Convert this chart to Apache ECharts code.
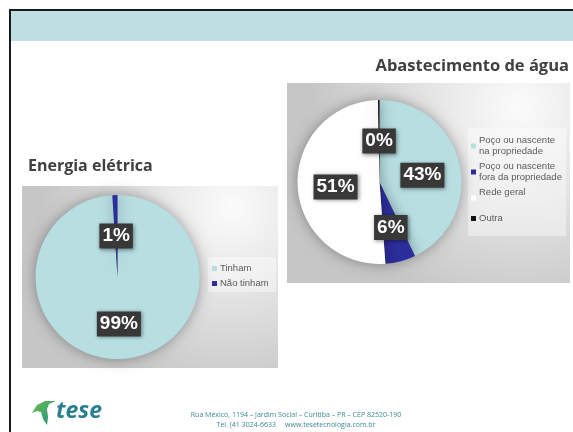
<!DOCTYPE html>
<html>
<head>
<meta charset="utf-8">
<script src="https://cdn.jsdelivr.net/npm/echarts@6/dist/echarts.min.js"></script>
<style>
html,body{margin:0;padding:0;background:#fff;}
#c{width:573px;height:432px;}
</style>
</head>
<body>
<div id="c"></div>
<script>
const energyTitle = 'Energia elétrica';
const energyCats = ['Tinham', 'Não tinham'];
const energyVals = [99, 1];
const energyColors = ['#b7dfe2', '#2b2d9c'];

const waterTitle = 'Abastecimento de água';
const waterCats = ['Poço ou nascente na propriedade', 'Poço ou nascente fora da propriedade', 'Rede geral', 'Outra'];
const waterVals = [43, 6, 51, 0.3];
const waterColors = ['#b7dfe2', '#2b2d9c', '#ffffff', '#111111'];

const footerLines = ['Rua México, 1194 – Jardim Social – Curitiba – PR – CEP 82520-190', 'Tel. (41 3024-6633     www.tesetecnologia.com.br'];

const chart = echarts.init(document.getElementById('c'), null, {renderer: 'canvas'});

function boxFill() {
  return new echarts.graphic.RadialGradient(0.82, 0.12, 1.05, [
    {offset: 0, color: '#fbfbfb'}, {offset: 0.45, color: '#e4e4e4'}, {offset: 1, color: '#c6c6c6'}
  ]);
}

const labelStyle = {
  show: true,
  position: 'inside',
  offset: [0, 3],
  formatter: p => Math.round(p.percent) + '%',
  color: '#ffffff',
  fontFamily: 'Liberation Sans, Arial, sans-serif',
  fontWeight: 'bold',
  fontSize: 19,
  lineHeight: 20,
  backgroundColor: '#383838',
  padding: [3, 3, 2, 3],
  shadowColor: 'rgba(0,0,0,0.45)',
  shadowBlur: 4,
  shadowOffsetX: 1,
  shadowOffsetY: 1
};

const legendText = {
  fontFamily: 'Liberation Sans, Arial, sans-serif',
  fontSize: 9.5,
  color: '#5a5a5a',
  lineHeight: 11,
  padding: [0, 0, 0, -2]
};

chart.setOption({
  animation: false,
  graphic: [
    {type: 'rect', shape: {x: 10, y: 10, width: 600, height: 500}, style: {fill: '#ffffff', stroke: '#1a1a1a', lineWidth: 2}, z: -10},
    {type: 'rect', shape: {x: 11, y: 11, width: 600, height: 30}, style: {fill: '#bfe0e3'}, z: -9},
    {type: 'rect', shape: {x: 22, y: 186, width: 256, height: 182}, style: {fill: boxFill()}, z: -8},
    {type: 'rect', shape: {x: 287, y: 83, width: 283, height: 200}, style: {fill: boxFill()}, z: -8},
    {type: 'rect', shape: {x: 208, y: 257, width: 68, height: 35}, style: {fill: 'rgba(255,255,255,0.4)'}, z: -7},
    {type: 'rect', shape: {x: 468, y: 128, width: 98, height: 108}, style: {fill: 'rgba(255,255,255,0.4)'}, z: -7},
    {type: 'text', x: 28, y: 158, style: {text: energyTitle, font: 'bold 16px "Open Sans", sans-serif', fill: '#404040'}},
    {type: 'text', x: 569, y: 58, style: {text: waterTitle, font: 'bold 16.5px "Open Sans", sans-serif', fill: '#404040', textAlign: 'right'}},
    {type: 'polygon', shape: {points: [[32,413],[37,405],[45,401],[56,401],[49,404],[47,409],[48,417],[47,425],[43,419],[41,412],[37,411]]},
      style: {fill: new echarts.graphic.LinearGradient(0, 0, 1, 1, [{offset: 0, color: '#6cc24a'}, {offset: 1, color: '#1e8a8c'}])}},
    {type: 'text', x: 56, y: 400, style: {text: 'tese', font: 'italic bold 23px "Open Sans", sans-serif', fill: '#2a7f8e'}},
    {type: 'text', x: 296, y: 411, style: {text: footerLines[0], font: '7px "Open Sans", sans-serif', fill: '#3a8a95', textAlign: 'center'}},
    {type: 'text', x: 296, y: 421, style: {text: footerLines[1], font: '7px "Open Sans", sans-serif', fill: '#3a8a95', textAlign: 'center'}}
  ],
  legend: [
    {
      data: energyCats, orient: 'vertical', left: 212, top: 263, padding: 0,
      itemWidth: 5, itemHeight: 5, itemGap: 4, icon: 'rect',
      textStyle: legendText, selectedMode: false
    },
    {
      data: waterCats, orient: 'vertical', left: 471, top: 135, padding: 0,
      itemWidth: 5, itemHeight: 5, itemGap: 4, icon: 'rect',
      formatter: n => n === 'Rede geral' ? 'Rede geral\n ' : n.replace('nascente ', 'nascente\n'),
      textStyle: legendText, selectedMode: false
    }
  ],
  series: [
    {
      type: 'pie', center: [117.5, 277], radius: 82, startAngle: 90, clockwise: true,
      data: energyCats.map((n, i) => ({name: n, value: energyVals[i], itemStyle: {color: energyColors[i]}})),
      itemStyle: {shadowBlur: 14, shadowColor: 'rgba(0,0,0,0.35)'},
      label: labelStyle, labelLine: {show: false}, emphasis: {disabled: true}
    },
    {
      type: 'pie', center: [379.5, 182], radius: 82, startAngle: 90, clockwise: true,
      data: waterCats.map((n, i) => ({name: n, value: waterVals[i], itemStyle: {color: waterColors[i]}})),
      itemStyle: {shadowBlur: 14, shadowColor: 'rgba(0,0,0,0.35)'},
      label: labelStyle, labelLine: {show: false}, emphasis: {disabled: true}
    }
  ]
});
</script>
</body>
</html>
